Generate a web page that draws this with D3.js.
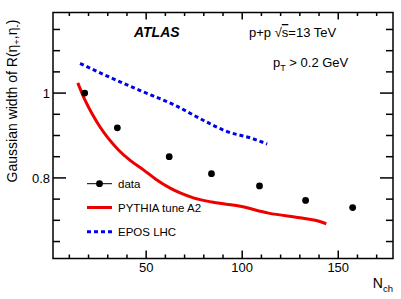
<!DOCTYPE html>
<html>
<head>
<meta charset="utf-8">
<script src="https://cdn.jsdelivr.net/npm/d3@7"></script>
<style>
  body { margin: 0; background: #fff; }
  svg text { font-family: "Liberation Sans", Arial, sans-serif; }
</style>
</head>
<body>
<svg id="chart" width="401" height="299"></svg>
<script>
// data
const dataN = [18, 35, 62, 84, 109, 133, 157.5];
const dataW = [1.0, 0.918, 0.85, 0.81, 0.781, 0.747, 0.730];

const pythiaN = [14.4, 18, 22, 26, 30, 35.6, 42, 48.6, 55, 62.5, 68, 74.6, 84.2, 99, 113.7, 130, 138, 143.75];
const pythiaW = [1.024, 0.985, 0.950, 0.920, 0.895, 0.866, 0.84, 0.819, 0.797, 0.776, 0.764, 0.753, 0.743, 0.733, 0.717, 0.706, 0.700, 0.692];

const eposN = [15.6, 31.25, 46.9, 65.1, 79.7, 91.1, 105.2, 113];
const eposW = [1.070, 1.037, 1.006, 0.971, 0.936, 0.911, 0.893, 0.880];

const xMajor = [50, 100, 150];
const xMinor = [10, 20, 30, 40, 60, 70, 80, 90, 110, 120, 130, 140, 160, 170];
const yMajor = [0.8, 1];
const yMinor = [0.65, 0.7, 0.75, 0.85, 0.9, 0.95, 1.05, 1.1, 1.15];

const svg = d3.select("#chart");
const padL = 53, padR = 393, padT = 12.5, padB = 258.5;

const x = d3.scaleLinear().domain([1.5, 178.5]).range([padL, padR]);
const y = d3.scaleLinear().domain([0.61, 1.19]).range([padB, padT]);

svg.append("g")
	.selectAll("text")
	.data(xMajor)
	.enter()
	.append("text")
	.attr("x", d => x(d))
	.attr("y", 272)
	.attr("text-anchor", "middle")
	.attr("font-size", 13)
	.text(d => d);

svg.append("g")
	.selectAll("text")
	.data(yMajor)
	.enter()
	.append("text")
	.attr("x", padL - 3)
	.attr("y", d => y(d) + 4.7)
	.attr("text-anchor", "end")
	.attr("font-size", 13)
	.text(d => d === 1 ? "1" : d3.format(".1f")(d));

// curves
const line = d3.line().x(d => x(d[0])).y(d => y(d[1])).curve(d3.curveMonotoneX);

svg.append("path")
	.datum(d3.zip(eposN, eposW))
	.attr("d", line)
	.attr("fill", "none").attr("stroke", "#0000ee")
	.attr("stroke-width", 3).attr("stroke-dasharray", "4,3");

svg.append("path")
	.datum(d3.zip(pythiaN, pythiaW))
	.attr("d", line)
	.attr("fill", "none").attr("stroke", "#ee0000")
	.attr("stroke-width", 3);

svg.selectAll("circle.pt")
	.data(d3.zip(dataN, dataW))
	.enter()
	.append("circle")
	.attr("class", "pt")
	.attr("cx", d => x(d[0]))
	.attr("cy", d => y(d[1]))
	.attr("r", 3.4)
	.attr("fill", "#000");

// legend
const lg = svg.append("g");
lg.append("line").attr("x1", 87).attr("x2", 112).attr("y1", 183.7).attr("y2", 183.7)
	.attr("stroke", "#000").attr("stroke-width", 1);
lg.append("circle").attr("cx", 99.5).attr("cy", 183.7).attr("r", 3.4).attr("fill", "#000");
lg.append("line").attr("x1", 87).attr("x2", 112).attr("y1", 207.5).attr("y2", 207.5)
	.attr("stroke", "#ee0000").attr("stroke-width", 3);
lg.append("line").attr("x1", 87).attr("x2", 112).attr("y1", 231.7).attr("y2", 231.7)
	.attr("stroke", "#0000ee").attr("stroke-width", 3).attr("stroke-dasharray", "4,3");
[["data", 188], ["PYTHIA tune A2", 211.8], ["EPOS LHC", 236]].forEach(function(t) {
	lg.append("text").attr("x", 118).attr("y", t[1])
		.attr("font-size", 11.5).attr("fill", "#000").text(t[0]);
});

// labels
svg.append("text").attr("x", 134).attr("y", 37)
	.attr("font-size", 14).attr("font-weight", "bold").attr("font-style", "italic")
	.text("ATLAS");

let t1 = svg.append("text").attr("x", 249).attr("y", 37).attr("font-size", 13);
t1.append("tspan").text("p+p ");
t1.append("tspan").text("\u221A");
t1.append("tspan").attr("text-decoration", "overline").text("s");
t1.append("tspan").text("=13 TeV");

let t2 = svg.append("text").attr("x", 273).attr("y", 66.5).attr("font-size", 13);
t2.append("tspan").text("p");
t2.append("tspan").attr("font-size", 9).attr("dy", 4).text("T");
t2.append("tspan").attr("dy", -4).text(" > 0.2 GeV");

let xl = svg.append("text").attr("x", 393).attr("y", 287.5)
	.attr("text-anchor", "end").attr("font-size", 14);
xl.append("tspan").text("N");
xl.append("tspan").attr("font-size", 9.5).attr("dy", 4).text("ch");

let yl = svg.append("text")
	.attr("transform", "translate(16.5,101) rotate(-90)")
	.attr("text-anchor", "middle").attr("font-size", 14);
yl.append("tspan").text("Gaussian width of R(\u03B7");
yl.append("tspan").attr("font-size", 9.5).attr("dy", 3).text("+");
yl.append("tspan").attr("dy", -3).text(",\u03B7");
yl.append("tspan").attr("font-size", 9.5).attr("dy", 3).text("-");
yl.append("tspan").attr("dy", -3).text(")");

// frame and ROOT style ticks, inward on all four sides (drawn last)
svg.append("rect")
	.attr("x", padL).attr("y", padT)
	.attr("width", padR - padL).attr("height", padB - padT)
	.attr("fill", "none").attr("stroke", "#000").attr("stroke-width", 1.5);

let tickSegs = [];
xMinor.forEach(v => { tickSegs.push([x(v), padB, x(v), padB - 4]); tickSegs.push([x(v), padT, x(v), padT + 3.5]); });
xMajor.forEach(v => { tickSegs.push([x(v), padB, x(v), padB - 8]); tickSegs.push([x(v), padT, x(v), padT + 7]); });
yMinor.forEach(v => { tickSegs.push([padL, y(v), padL + 7, y(v)]); tickSegs.push([padR, y(v), padR - 7, y(v)]); });
yMajor.forEach(v => { tickSegs.push([padL, y(v), padL + 13, y(v)]); tickSegs.push([padR, y(v), padR - 13, y(v)]); });

svg.append("g")
	.selectAll("line")
	.data(tickSegs)
	.enter()
	.append("line")
	.attr("x1", d => d[0]).attr("y1", d => d[1])
	.attr("x2", d => d[2]).attr("y2", d => d[3])
	.attr("stroke", "#000")
	.attr("stroke-width", 1.5);
</script>
</body>
</html>
